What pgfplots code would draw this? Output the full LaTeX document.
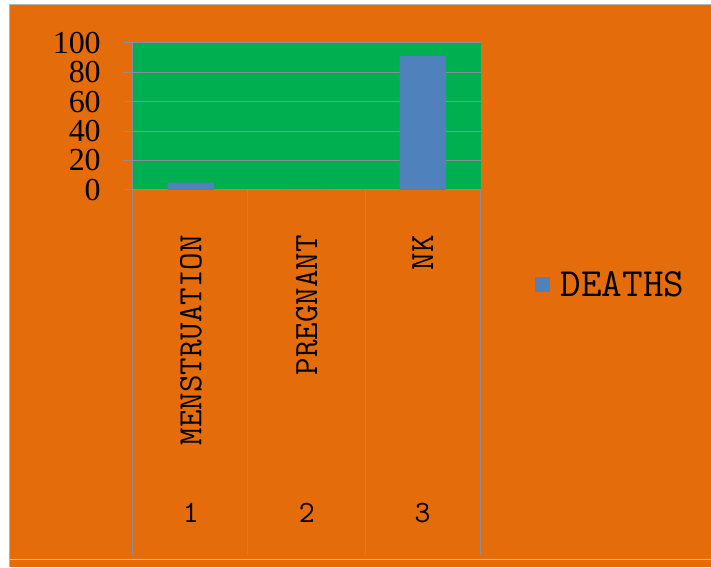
\documentclass[border=0pt]{standalone}
\usepackage{pgfplots}
\pgfplotsset{compat=1.18}
\usepackage{fontspec}
\setmainfont{Liberation Serif}
\setmonofont{Latin Modern Mono}
\definecolor{bgorange}{HTML}{E46C0A}
\definecolor{plotgreen}{HTML}{00B050}
\definecolor{barblue}{HTML}{4F81BD}
\definecolor{linegray}{HTML}{8C8C9C}
\begin{document}
\begin{tikzpicture}[x=1bp,y=1bp]
\fill[white] (0,0) rectangle (711,567);
\fill[bgorange] (10,0) rectangle (711,562);
\draw[gray!60,line width=1bp] (10,0) -- (10,562) -- (711,562);
\draw[gray!45,line width=0.8bp] (10,7) -- (711,7);
\begin{axis}[
  at={(133bp,377bp)}, anchor=south west,
  scale only axis, width=348bp, height=147bp,
  xmin=0.5, xmax=3.5, ymin=0, ymax=100,
  ytick={0,20,...,100},
  xtick={1,2,3},
  xticklabels={MENSTRUATION,PREGNANT,NK},
  axis background/.style={fill=plotgreen},
  axis x line*=bottom, axis y line*=left,
  axis line style={linegray, line width=1bp},
  ymajorgrids, grid style={linegray, line width=1bp},
  tick align=outside,
  major tick length=10bp,
  ytick style={linegray, line width=1bp},
  xtick style={draw=none},
  /pgf/number format/assume math mode=true,
  yticklabel style={font=\fontsize{32bp}{32bp}\selectfont, inner sep=0pt},
  yticklabel shift=22bp,
  xticklabel style={font=\ttfamily\fontsize{34bp}{34bp}\selectfont, rotate=90, anchor=east, inner sep=0pt},
  xticklabel shift=35bp,
  ybar, bar width=0.4,
  clip=false,
  legend style={at={(1.155,-0.646)}, anchor=west, draw=none, fill=none,
    font=\ttfamily\fontsize{40bp}{40bp}\selectfont, inner sep=0pt},
  legend image code/.code={\fill[barblue] (0bp,-7bp) rectangle (15bp,8bp); \path (24bp,0bp);},
]
\addplot[fill=barblue, draw=none] coordinates {(1,5) (2,0) (3,91)};
\addlegendentry{DEATHS}
\node[font=\ttfamily\fontsize{31bp}{31bp}\selectfont] at (axis cs:1,-220) {1};
\node[font=\ttfamily\fontsize{31bp}{31bp}\selectfont] at (axis cs:2,-220) {2};
\node[font=\ttfamily\fontsize{31bp}{31bp}\selectfont] at (axis cs:3,-220) {3};
\end{axis}
\draw[linegray, line width=1bp] (133,377) -- (133,12);
\draw[linegray, line width=1bp] (248,377) -- (248,12);
\draw[linegray, line width=1bp] (366,377) -- (366,12);
\draw[linegray, line width=1bp] (481,377) -- (481,12);
\end{tikzpicture}
\end{document}
